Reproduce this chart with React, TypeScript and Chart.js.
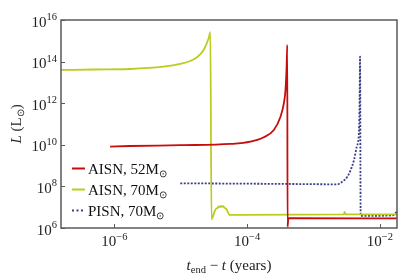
import React, { useEffect, useRef } from 'react';
import { Chart, registerables } from 'chart.js';

Chart.register(...registerables);

// ---- data (years, solar luminosities) ----
const seriesNames = ['AISN, 52M', 'AISN, 70M', 'PISN, 70M'];
const massSymbol = '⊙';

const aisn52Time = [8.61e-7, 1.726e-6, 1e-5, 5.6e-5, 1.122e-4, 1.78e-4, 2.52e-4, 3.18e-4, 3.57e-4, 3.78e-4, 3.93e-4, 4.02e-4, 4.06e-4, 4.17e-4, 1.81e-2];
const aisn52Lum = [8.11e9, 8.75e9, 9.55e9, 1.1e10, 1.41e10, 2.29e10, 5.13e10, 2.24e11, 9.89e11, 4.27e12, 5.62e13, 6.31e14, 1.12e6, 2.95e6, 2.88e6];

const aisn70Time = [1.57e-7, 5.0e-7, 1.726e-6, 5.5e-6, 9.82e-6, 1.39e-5, 1.758e-5, 2.208e-5, 2.63e-5, 2.79e-5, 2.9e-5, 3.21e-5, 3.4e-5, 3.56e-5, 3.75e-5, 3.89e-5, 4.05e-5, 4.19e-5, 4.35e-5, 4.54e-5, 4.86e-5, 5.46e-5, 2.85e-3, 2.95e-3, 3.05e-3, 1.81e-2];
const aisn70Lum = [3.98e13, 4.17e13, 4.41e13, 5.69e13, 7.67e13, 1.07e14, 1.61e14, 3.61e14, 1.32e15, 2.57e15, 2.63e6, 5.89e6, 8.5e6, 8.91e6, 1.1e7, 1.0e7, 1.15e7, 1.05e7, 1.12e7, 9.55e6, 8.13e6, 4.27e6, 4.47e6, 5.89e6, 4.47e6, 4.47e6];

const pisn70Time = [9.82e-6, 3.16e-4, 2.29e-3, 2.72e-3, 3.24e-3, 3.63e-3, 4.07e-3, 4.48e-3, 4.85e-3, 4.95e-3, 5.02e-3, 5.13e-3, 1.55e-2, 1.74e-2, 1.81e-2];
const pisn70Lum = [1.41e8, 1.32e8, 1.26e8, 1.7e8, 2.95e8, 6.17e8, 1.86e9, 8.13e9, 5.13e10, 1.58e12, 1.74e14, 3.8e6, 4.07e6, 5.5e6, 6.03e6];

const xTickValues = [1e-6, 1e-4, 1e-2];
const yTickValues = [1e6, 1e8, 1e10, 1e12, 1e14, 1e16];
const xRange = [1.567e-7, 1.81e-2];
const yRange = [1e6, 1e16];

const RED = '#c80c0c';
const YELLOW = '#bccc1e';
const BLUE = '#3b3f86';
const AXIS = '#5a5a5a';
const FONT = '"Liberation Serif", "Times New Roman", serif';

type Part = { t: string; size: number; italic?: boolean; dy?: number };

function richWidth(ctx: CanvasRenderingContext2D, parts: Part[]) {
  let w = 0;
  for (const p of parts) {
    ctx.font = `${p.italic ? 'italic ' : ''}${p.size}px ${FONT}`;
    w += ctx.measureText(p.t).width;
  }
  return w;
}

function drawRich(ctx: CanvasRenderingContext2D, parts: Part[], x: number, y: number, align: 'left' | 'center' | 'right') {
  const w = richWidth(ctx, parts);
  let cx = align === 'left' ? x : align === 'center' ? x - w / 2 : x - w;
  ctx.textAlign = 'left';
  ctx.textBaseline = 'alphabetic';
  for (const p of parts) {
    ctx.font = `${p.italic ? 'italic ' : ''}${p.size}px ${FONT}`;
    ctx.fillText(p.t, cx, y + (p.dy || 0));
    cx += ctx.measureText(p.t).width;
  }
}

function expParts(v: number): Part[] {
  const e = Math.round(Math.log10(v));
  const s = e < 0 ? '−' + String(-e) : String(e);
  return [
    { t: '10', size: 15 },
    { t: s, size: 10.5, dy: -6.5 },
  ];
}

const decorPlugin = {
  id: 'decor',
  afterDraw(chart: any) {
    const ctx: CanvasRenderingContext2D = chart.ctx;
    const { left, right, top, bottom } = chart.chartArea;
    const xs = chart.scales.x;
    const ys = chart.scales.y;
    ctx.save();
    // frame
    ctx.strokeStyle = AXIS;
    ctx.lineWidth = 1.5;
    ctx.strokeRect(left, top, right - left, bottom - top);
    // ticks
    ctx.lineWidth = 1;
    ctx.beginPath();
    for (const v of xTickValues) {
      const px = Math.round(xs.getPixelForValue(v)) + 0.5;
      ctx.moveTo(px, bottom);
      ctx.lineTo(px, bottom - 4);
    }
    for (const v of yTickValues) {
      const py = Math.round(ys.getPixelForValue(v)) + 0.5;
      ctx.moveTo(left, py);
      ctx.lineTo(left + 4, py);
    }
    ctx.stroke();
    // tick labels
    ctx.fillStyle = '#222';
    for (const v of xTickValues) {
      drawRich(ctx, expParts(v), xs.getPixelForValue(v), bottom + 18, 'center');
    }
    for (const v of yTickValues) {
      drawRich(ctx, expParts(v), left - 4, ys.getPixelForValue(v) + 6.5, 'right');
    }
    // x title
    drawRich(
      ctx,
      [
        { t: 't', size: 15, italic: true },
        { t: 'end', size: 10.5, dy: 3 },
        { t: ' − ', size: 15 },
        { t: 't', size: 15, italic: true },
        { t: ' (years)', size: 15 },
      ],
      (left + right) / 2,
      bottom + 42,
      'center'
    );
    // y title
    ctx.save();
    ctx.translate(20.5, (top + bottom) / 2);
    ctx.rotate(-Math.PI / 2);
    drawRich(
      ctx,
      [
        { t: 'L', size: 15, italic: true },
        { t: ' (L', size: 15 },
        { t: massSymbol, size: 10, dy: 3 },
        { t: ')', size: 15 },
      ],
      0,
      0,
      'center'
    );
    ctx.restore();
    // legend
    const colors = [RED, YELLOW, BLUE];
    const rowsY = [168.5, 189.5, 210.5];
    seriesNames.forEach((name, i) => {
      const y = rowsY[i];
      ctx.strokeStyle = colors[i];
      ctx.lineWidth = 2;
      ctx.setLineDash(i === 2 ? [2, 2.5] : []);
      ctx.beginPath();
      ctx.moveTo(72, y);
      ctx.lineTo(85, y);
      ctx.stroke();
      ctx.setLineDash([]);
      ctx.fillStyle = '#111';
      drawRich(
        ctx,
        [
          { t: name, size: 15 },
          { t: massSymbol, size: 10, dy: 3 },
        ],
        88,
        y + 5,
        'left'
      );
    });
    ctx.restore();
  },
};

function toPoints(xs: number[], ys: number[]) {
  return xs.map((x, i) => ({ x, y: ys[i] }));
}

export default function App() {
  const ref = useRef<HTMLCanvasElement | null>(null);
  useEffect(() => {
    document.body.style.margin = '0';
    const canvas = ref.current;
    if (!canvas) return;
    const chart = new Chart(canvas, {
      type: 'line',
      data: {
        datasets: [
          {
            label: seriesNames[0],
            data: toPoints(aisn52Time, aisn52Lum),
            borderColor: RED,
            borderWidth: 1.8,
            pointRadius: 0,
            cubicInterpolationMode: 'monotone',
          },
          {
            label: seriesNames[1],
            data: toPoints(aisn70Time, aisn70Lum),
            borderColor: YELLOW,
            borderWidth: 1.8,
            pointRadius: 0,
            cubicInterpolationMode: 'monotone',
          },
          {
            label: seriesNames[2],
            data: toPoints(pisn70Time, pisn70Lum),
            borderColor: BLUE,
            borderWidth: 1.8,
            borderDash: [2, 1.5],
            pointRadius: 0,
            cubicInterpolationMode: 'monotone',
          },
        ],
      } as any,
      options: {
        animation: false,
        responsive: false,
        devicePixelRatio: 1,
        parsing: false,
        layout: { padding: { left: 61, right: 10, top: 20, bottom: 51 } },
        plugins: { legend: { display: false }, tooltip: { enabled: false } },
        scales: {
          x: { type: 'logarithmic', min: xRange[0], max: xRange[1], display: false },
          y: { type: 'logarithmic', min: yRange[0], max: yRange[1], display: false },
        },
      } as any,
      plugins: [decorPlugin],
    });
    return () => chart.destroy();
  }, []);
  return <canvas ref={ref} width={407} height={279} style={{ display: 'block', width: 407, height: 279 }} />;
}
